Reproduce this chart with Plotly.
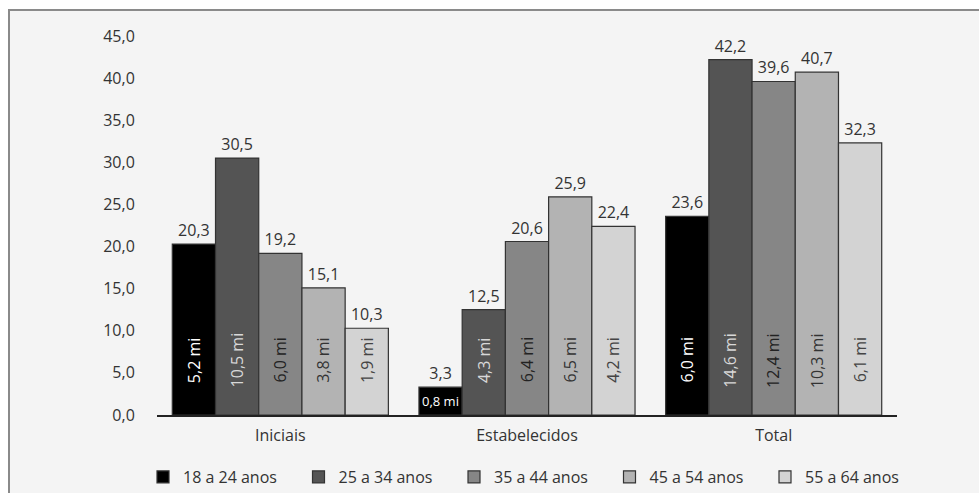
import plotly.graph_objects as go

categories = ["Iniciais", "Estabelecidos", "Total"]
series_names = ["18 a 24 anos", "25 a 34 anos", "35 a 44 anos", "45 a 54 anos", "55 a 64 anos"]
values_18_24 = [20.3, 3.3, 23.6]
values_25_34 = [30.5, 12.5, 42.2]
values_35_44 = [19.2, 20.6, 39.6]
values_45_54 = [15.1, 25.9, 40.7]
values_55_64 = [10.3, 22.4, 32.3]
millions_18_24 = [5.2, 0.8, 6.0]
millions_25_34 = [10.5, 4.3, 14.6]
millions_35_44 = [6.0, 6.4, 12.4]
millions_45_54 = [3.8, 6.5, 10.3]
millions_55_64 = [1.9, 4.2, 6.1]
y_ticks = [0, 5, 10, 15, 20, 25, 30, 35, 40, 45]

all_values = [values_18_24, values_25_34, values_35_44, values_45_54, values_55_64]
all_millions = [millions_18_24, millions_25_34, millions_35_44, millions_45_54, millions_55_64]
colors = ["#000000", "#545454", "#868686", "#b3b3b3", "#d3d3d3"]
inner_text_colors = ["#ffffff", "#d8d8d8", "#222222", "#333333", "#444444"]

W, H = 979, 493
L, R, T, B = 157, 82, 36, 78
pw, ph = W - L - R, H - T - B
FONT = "Open Sans"

# legend layout (pixels)
LEG_X0, LEG_STEP, LEG_Y = 143, 155.5, 477
LEG_SPLIT = 4  # entries in the first legend row block

def fmt(v):
    return f"{v:.1f}".replace(".", ",")

bargap = 0.124
n = len(series_names)
bw = (1 - bargap) / n

fig = go.Figure()
annotations = []
for i, (name, vals, mis) in enumerate(zip(series_names, all_values, all_millions)):
    fig.add_trace(go.Bar(
        name=name, x=categories, y=vals,
        marker=dict(color=colors[i], line=dict(color="#333333", width=1.2)),
        text=[fmt(v) for v in vals], textposition="outside",
        outsidetextfont=dict(size=16, color="#333333", family=FONT),
        cliponaxis=False,
        legend="legend" if i < LEG_SPLIT else "legend2",
    ))
    for j, (v, m) in enumerate(zip(vals, mis)):
        xc = j - (1 - bargap) / 2 + bw * (i + 0.5)
        if v < 8:
            annotations.append(dict(
                x=xc, y=v / 2, xref="x", yref="y", text=fmt(m) + " mi", showarrow=False,
                font=dict(size=13, color=inner_text_colors[i], family=FONT),
                xanchor="center", yanchor="middle"))
        else:
            annotations.append(dict(
                x=xc, y=6.5, xref="x", yref="y", text=fmt(m) + " mi", showarrow=False,
                textangle=-90,
                font=dict(size=16, color=inner_text_colors[i], family=FONT),
                xanchor="center", yanchor="middle"))

def px_x(p):
    return (p - L) / pw

def px_y(p):
    return (H - B - p) / ph

legend_common = dict(orientation="h", xref="container", yref="container",
                     xanchor="left", y=1 - LEG_Y / H, yanchor="middle",
                     entrywidth=LEG_STEP - 45, entrywidthmode="pixels",
                     font=dict(size=16, color="#333333"), bgcolor="rgba(0,0,0,0)",
                     itemclick=False)

fig.update_layout(
    width=W, height=H,
    margin=dict(l=L, r=R, t=T, b=B),
    paper_bgcolor="#ffffff",
    plot_bgcolor="rgba(0,0,0,0)",
    font=dict(family=FONT, size=16, color="#333333"),
    barmode="group", bargap=bargap, bargroupgap=0,
    showlegend=True,
    legend=dict(x=LEG_X0 / W, **legend_common),
    legend2=dict(x=(LEG_X0 + LEG_SPLIT * LEG_STEP) / W, **legend_common),
    annotations=annotations,
    shapes=[dict(type="rect", xref="paper", yref="paper",
                 x0=px_x(9), x1=px_x(995), y0=px_y(510), y1=px_y(10),
                 fillcolor="#f4f4f4", line=dict(color="#8a8a8a", width=2), layer="below")],
    xaxis=dict(showline=True, linecolor="#222222", linewidth=1.5, showgrid=False,
               ticks="outside", ticklen=5, tickcolor="rgba(0,0,0,0)",
               tickfont=dict(size=16, color="#333333"), zeroline=False),
    yaxis=dict(range=[0, 45], tickvals=y_ticks, ticktext=[fmt(v) for v in y_ticks],
               showgrid=False, zeroline=False, showline=False,
               ticks="outside", ticklen=18, tickcolor="rgba(0,0,0,0)",
               tickfont=dict(size=16, color="#333333")),
)

fig.write_html("out.html")
